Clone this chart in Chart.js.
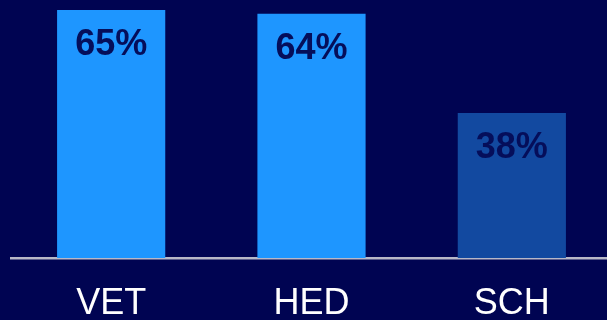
<!DOCTYPE html>
<html>
<head>
<meta charset="utf-8">
<script src="https://cdn.jsdelivr.net/npm/chart.js@4/dist/chart.umd.min.js"></script>
<style>
  html, body { margin: 0; padding: 0; background: #000452; overflow: hidden; }
  #wrap { width: 612px; height: 320px; }
</style>
</head>
<body>
<div id="wrap"><canvas id="chart"></canvas></div>
<script>
// categorias e valores (%)
const categorias = ["VET", "HED", "SCH"];
const valores = [65, 64, 38];
const cores = ["#1e96ff", "#1e96ff", "#1249a0"];

// rótulos dentro das barras
const rotulosBarras = {
  id: "rotulosBarras",
  afterDatasetsDraw(chart) {
    const ctx = chart.ctx;
    const meta = chart.getDatasetMeta(0);
    ctx.save();
    ctx.fillStyle = "#050e5a";
    ctx.font = "bold 36px 'Liberation Sans', Arial, sans-serif";
    ctx.textAlign = "center";
    ctx.textBaseline = "middle";
    meta.data.forEach(function (bar, i) {
      ctx.fillText(valores[i] + "%", bar.x, bar.y + 35);
    });
    ctx.restore();
  }
};

const config = {
  type: "bar",
  data: {
    labels: categorias,
    datasets: [{
      data: valores,
      backgroundColor: cores,
      borderWidth: 0,
      barPercentage: 1,
      categoryPercentage: 0.54
    }]
  },
  options: {
    responsive: true,
    maintainAspectRatio: false,
    animation: false,
    layout: { padding: { top: 10, left: 11, right: 0, bottom: 0 } },
    plugins: {
      legend: { display: false },
      tooltip: { enabled: false }
    },
    scales: {
      x: {
        grid: { display: false, drawTicks: false },
        border: { display: true, color: "#b8b8c8", width: 2.5 },
        ticks: {
          color: "#ffffff",
          padding: 24,
          font: { family: "'Liberation Sans', Arial, sans-serif", size: 36 }
        },
        afterFit(axis) { axis.height = 62; }
      },
      y: {
        display: false,
        min: 0,
        max: 65
      }
    }
  },
  plugins: [rotulosBarras]
};

const myChart = new Chart(document.getElementById("chart"), config);
</script>
</body>
</html>
